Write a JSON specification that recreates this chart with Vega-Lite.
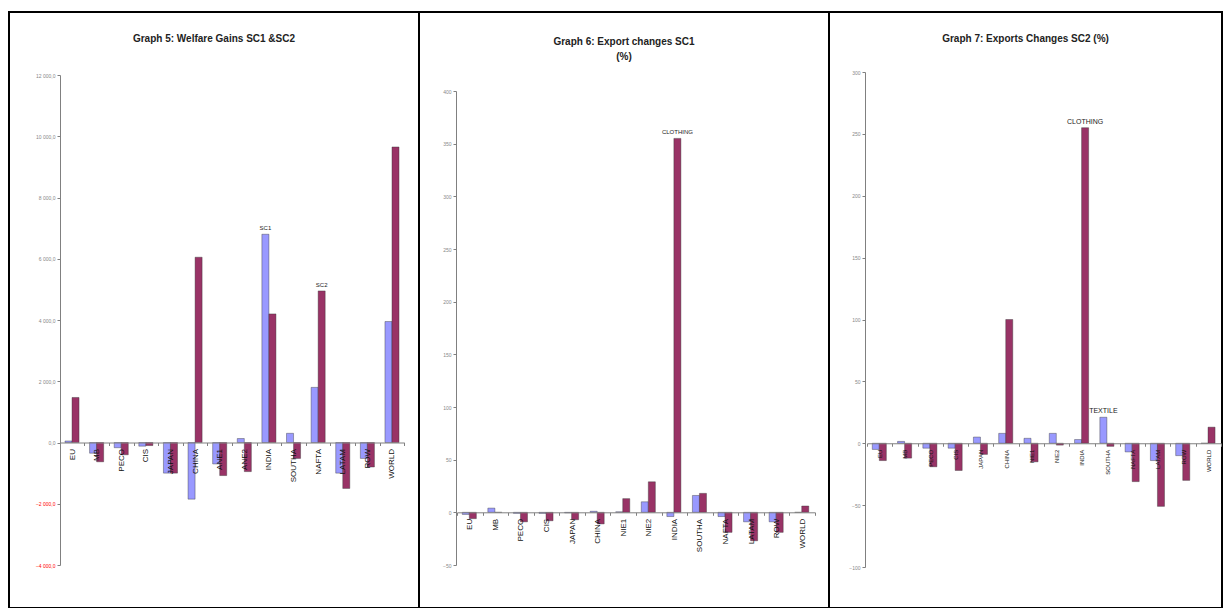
{
  "$schema": "https://vega.github.io/schema/vega-lite/v6.json",
  "padding": {"left": 4, "top": 11, "right": 0, "bottom": 0},
  "spacing": 0,
  "bounds": "flush",
  "background": "white",
  "config": {
    "view": {"stroke": "black", "strokeWidth": 2},
    "font": "Liberation Sans",
    "title": {"fontSize": 10, "fontWeight": "bold", "color": "#222", "frame": "group", "anchor": "middle", "font": "Liberation Sans"},
    "axis": {"grid": false, "title": null, "domainColor": "#808080", "tickColor": "#808080", "tickSize": 3},
    "bar": {"stroke": "#333", "strokeWidth": 0.4}
  },
  "datasets": {
    "g5": [
      {"region": "EU", "series": "SC1", "value": 50}, {"region": "EU", "series": "SC2", "value": 1470},
      {"region": "MB", "series": "SC1", "value": -350}, {"region": "MB", "series": "SC2", "value": -630},
      {"region": "PECO", "series": "SC1", "value": -170}, {"region": "PECO", "series": "SC2", "value": -400},
      {"region": "CIS", "series": "SC1", "value": -120}, {"region": "CIS", "series": "SC2", "value": -100},
      {"region": "JAPAN", "series": "SC1", "value": -1000}, {"region": "JAPAN", "series": "SC2", "value": -1000},
      {"region": "CHINA", "series": "SC1", "value": -1850}, {"region": "CHINA", "series": "SC2", "value": 6050},
      {"region": "ANE1", "series": "SC1", "value": -700}, {"region": "ANE1", "series": "SC2", "value": -1080},
      {"region": "ANE2", "series": "SC1", "value": 130}, {"region": "ANE2", "series": "SC2", "value": -950},
      {"region": "INDIA", "series": "SC1", "value": 6800, "label": "SC1"}, {"region": "INDIA", "series": "SC2", "value": 4200},
      {"region": "SOUTHA", "series": "SC1", "value": 300}, {"region": "SOUTHA", "series": "SC2", "value": -520},
      {"region": "NAFTA", "series": "SC1", "value": 1800}, {"region": "NAFTA", "series": "SC2", "value": 4950, "label": "SC2"},
      {"region": "LATAM", "series": "SC1", "value": -1000}, {"region": "LATAM", "series": "SC2", "value": -1500},
      {"region": "ROW", "series": "SC1", "value": -520}, {"region": "ROW", "series": "SC2", "value": -800},
      {"region": "WORLD", "series": "SC1", "value": 3950}, {"region": "WORLD", "series": "SC2", "value": 9650}
    ],
    "g6": [
      {"region": "EU", "series": "SC1", "value": -2}, {"region": "EU", "series": "SC2", "value": -6},
      {"region": "MB", "series": "SC1", "value": 4}, {"region": "MB", "series": "SC2", "value": 0},
      {"region": "PECO", "series": "SC1", "value": -1}, {"region": "PECO", "series": "SC2", "value": -9},
      {"region": "CIS", "series": "SC1", "value": -1}, {"region": "CIS", "series": "SC2", "value": -8},
      {"region": "JAPAN", "series": "SC1", "value": -0.5}, {"region": "JAPAN", "series": "SC2", "value": -7},
      {"region": "CHINA", "series": "SC1", "value": 1}, {"region": "CHINA", "series": "SC2", "value": -11},
      {"region": "NIE1", "series": "SC1", "value": 0.5}, {"region": "NIE1", "series": "SC2", "value": 13},
      {"region": "NIE2", "series": "SC1", "value": 10}, {"region": "NIE2", "series": "SC2", "value": 29},
      {"region": "INDIA", "series": "SC1", "value": -4}, {"region": "INDIA", "series": "SC2", "value": 355, "label": "CLOTHING"},
      {"region": "SOUTHA", "series": "SC1", "value": 16}, {"region": "SOUTHA", "series": "SC2", "value": 18},
      {"region": "NAFTA", "series": "SC1", "value": -4}, {"region": "NAFTA", "series": "SC2", "value": -19},
      {"region": "LATAM", "series": "SC1", "value": -9}, {"region": "LATAM", "series": "SC2", "value": -27},
      {"region": "ROW", "series": "SC1", "value": -9}, {"region": "ROW", "series": "SC2", "value": -19},
      {"region": "WORLD", "series": "SC1", "value": 0}, {"region": "WORLD", "series": "SC2", "value": 6}
    ],
    "g7": [
      {"region": "EU", "series": "SC1", "value": -5}, {"region": "EU", "series": "SC2", "value": -14},
      {"region": "MB", "series": "SC1", "value": 1.5}, {"region": "MB", "series": "SC2", "value": -12},
      {"region": "PECO", "series": "SC1", "value": -4}, {"region": "PECO", "series": "SC2", "value": -19},
      {"region": "CIS", "series": "SC1", "value": -4}, {"region": "CIS", "series": "SC2", "value": -22},
      {"region": "JAPAN", "series": "SC1", "value": 5}, {"region": "JAPAN", "series": "SC2", "value": -9},
      {"region": "CHINA", "series": "SC1", "value": 8}, {"region": "CHINA", "series": "SC2", "value": 100},
      {"region": "NIE1", "series": "SC1", "value": 4}, {"region": "NIE1", "series": "SC2", "value": -15},
      {"region": "NIE2", "series": "SC1", "value": 8}, {"region": "NIE2", "series": "SC2", "value": -1.5},
      {"region": "INDIA", "series": "SC1", "value": 3}, {"region": "INDIA", "series": "SC2", "value": 255, "label": "CLOTHING"},
      {"region": "SOUTHA", "series": "SC1", "value": 21, "label": "TEXTILE"}, {"region": "SOUTHA", "series": "SC2", "value": -2.5},
      {"region": "NAFTA", "series": "SC1", "value": -7}, {"region": "NAFTA", "series": "SC2", "value": -31},
      {"region": "LATAM", "series": "SC1", "value": -14}, {"region": "LATAM", "series": "SC2", "value": -51},
      {"region": "ROW", "series": "SC1", "value": -10}, {"region": "ROW", "series": "SC2", "value": -30},
      {"region": "WORLD", "series": "SC1", "value": 0}, {"region": "WORLD", "series": "SC2", "value": 13}
    ]
  },
  "hconcat": [
    {
      "width": 410, "height": 596,
      "title": {"text": "Graph 5: Welfare Gains SC1 &SC2", "offset": -32},
      "data": {"name": "g5"},
      "encoding": {
        "x": {"field": "region", "type": "nominal", "sort": null,
          "scale": {"range": [50.7, 395.3], "paddingInner": 0, "paddingOuter": 0},
          "axis": {"orient": "bottom", "zindex": 2, "offset": -165.5, "labelAngle": -90, "labelFontSize": 8, "labelColor": "#111", "tickBand": "extent", "labelPadding": 3, "labelBound": false, "labelOverlap": false}},
        "xOffset": {"field": "series", "type": "nominal", "scale": {"paddingOuter": 0.75, "paddingInner": 0}},
        "y": {"field": "value", "type": "quantitative", "stack": null,
          "scale": {"domain": [-4000, 12000], "range": [553, 63], "nice": false, "zero": true},
          "axis": {"offset": -51, "values": [-4000, -2000, 0, 2000, 4000, 6000, 8000, 10000, 12000], "labelFontSize": 5,
            "labelColor": {"condition": {"test": "datum.value < 0", "value": "#ff0000"}, "value": "#888888"},
            "labelExpr": "replace(replace(format(datum.value, ',.1f'), ',', ' '), '.', ',')"}}
      },
      "layer": [
        {"mark": {"type": "bar"}, "encoding": {"y2": {"datum": 0}, "color": {"field": "series", "type": "nominal", "scale": {"domain": ["SC1", "SC2"], "range": ["#9999FF", "#993366"]}, "legend": null}}},
        {"transform": [{"filter": "datum.label"}], "mark": {"type": "text", "dy": -6, "fontSize": 6, "color": "#222"}, "encoding": {"text": {"field": "label"}}}
      ]
    },
    {
      "width": 410, "height": 596,
      "title": {"text": ["Graph 6: Export changes SC1", "(%)"], "offset": -50, "lineHeight": 15},
      "data": {"name": "g6"},
      "encoding": {
        "x": {"field": "region", "type": "nominal", "sort": null,
          "scale": {"range": [38, 396], "paddingInner": 0, "paddingOuter": 0},
          "axis": {"orient": "bottom", "zindex": 2, "offset": -95.7, "labelAngle": -90, "labelFontSize": 8, "labelColor": "#111", "tickBand": "extent", "labelPadding": 3, "labelBound": false, "labelOverlap": false}},
        "xOffset": {"field": "series", "type": "nominal", "scale": {"paddingOuter": 0.75, "paddingInner": 0}},
        "y": {"field": "value", "type": "quantitative", "stack": null,
          "scale": {"domain": [-50, 400], "range": [553, 79], "nice": false, "zero": true},
          "axis": {"offset": -37, "values": [-50, 0, 50, 100, 150, 200, 250, 300, 350, 400], "labelFontSize": 5, "labelColor": "#888888"}}
      },
      "layer": [
        {"mark": {"type": "bar"}, "encoding": {"y2": {"datum": 0}, "color": {"field": "series", "type": "nominal", "scale": {"domain": ["SC1", "SC2"], "range": ["#9999FF", "#993366"]}, "legend": null}}},
        {"transform": [{"filter": "datum.label"}], "mark": {"type": "text", "dy": -6, "fontSize": 6, "color": "#222"}, "encoding": {"text": {"field": "label"}}}
      ]
    },
    {
      "width": 393, "height": 596,
      "title": {"text": "Graph 7: Exports Changes SC2 (%)", "offset": -32},
      "data": {"name": "g7"},
      "encoding": {
        "x": {"field": "region", "type": "nominal", "sort": null,
          "scale": {"range": [38, 392], "paddingInner": 0, "paddingOuter": 0},
          "axis": {"orient": "bottom", "zindex": 2, "offset": -164.75, "labelAngle": -90, "labelFontSize": 6, "labelColor": "#111", "tickBand": "extent", "labelPadding": 3, "labelBound": false, "labelOverlap": false}},
        "xOffset": {"field": "series", "type": "nominal", "scale": {"paddingOuter": 0.75, "paddingInner": 0}},
        "y": {"field": "value", "type": "quantitative", "stack": null,
          "scale": {"domain": [-100, 300], "range": [555, 60], "nice": false, "zero": true},
          "axis": {"offset": -36, "values": [-100, -50, 0, 50, 100, 150, 200, 250, 300], "labelFontSize": 5, "labelColor": "#888888"}}
      },
      "layer": [
        {"mark": {"type": "bar"}, "encoding": {"y2": {"datum": 0}, "color": {"field": "series", "type": "nominal", "scale": {"domain": ["SC1", "SC2"], "range": ["#9999FF", "#993366"]}, "legend": null}}},
        {"transform": [{"filter": "datum.label"}], "mark": {"type": "text", "dy": -6, "fontSize": 7, "color": "#222"}, "encoding": {"text": {"field": "label"}}}
      ]
    }
  ]
}
